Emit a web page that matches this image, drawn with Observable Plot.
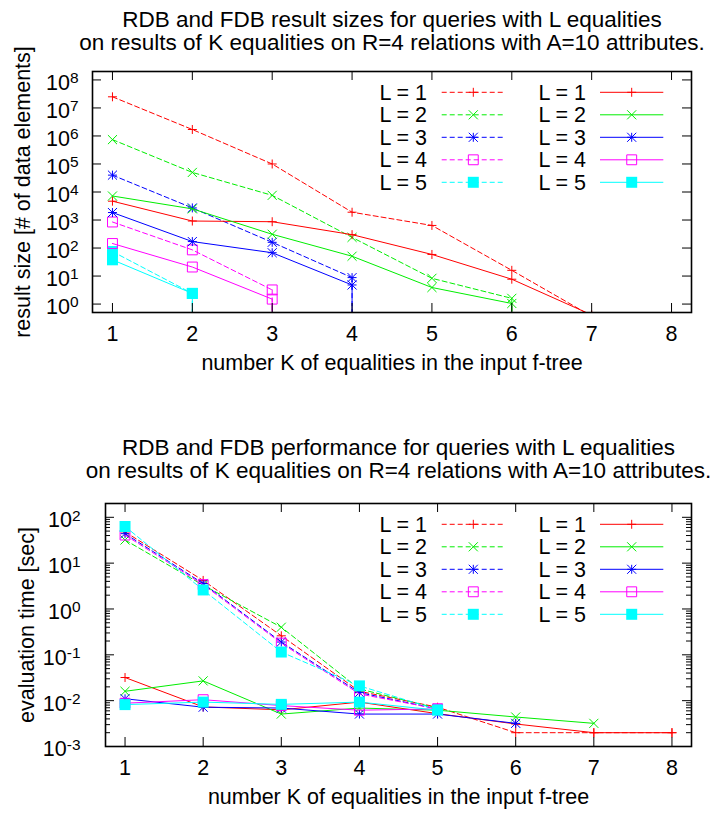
<!DOCTYPE html>
<html><head><meta charset="utf-8">
<script src="https://cdn.jsdelivr.net/npm/d3@7"></script>
<script src="https://cdn.jsdelivr.net/npm/@observablehq/plot@0.6"></script>
<style>
body{margin:0;background:#fff}
#chart{position:relative;width:711px;height:814px}
#chart svg{display:block}
</style>
</head><body><div id="chart"></div>
<script>
// ---------- data ----------
const kTicks = [1, 2, 3, 4, 5, 6, 7, 8];
const levels = [1, 2, 3, 4, 5];
const colors = ["#ff0000", "#00ee00", "#0000ff", "#ff00ff", "#00ffff"];
const legendLabels = ["L = 1", "L = 2", "L = 3", "L = 4", "L = 5"];

// result sizes [# of data elements] for K = 1.. ; 0 = empty result
const sizeRDB_L1 = [2.5e7, 1.7e6, 1.0e5, 1.9e3, 640, 16, 0.37];
const sizeRDB_L2 = [7.4e5, 5.0e4, 7.6e3, 240, 8.3, 1.6, 0];
const sizeRDB_L3 = [4.0e4, 2.7e3, 160, 8.8, 0];
const sizeRDB_L4 = [850, 86, 3.2, 0];
const sizeRDB_L5 = [75, 2.4, 0];
const sizeFDB_L1 = [4700, 920, 870, 300, 59, 7.7, 0.41];
const sizeFDB_L2 = [7200, 2500, 310, 51, 3.9, 1.05, 0];
const sizeFDB_L3 = [1850, 170, 68, 4.8, 0];
const sizeFDB_L4 = [145, 21, 1.5, 0];
const sizeFDB_L5 = [38, 2.4, 0];

// evaluation time [sec] for K = 1..
const timeRDB_L1 = [48, 4.2, 0.26, 0.016, 0.0072, 0.002, 0.002, 0.002];
const timeRDB_L2 = [32, 3.3, 0.40, 0.018, 0.0068];
const timeRDB_L3 = [44, 3.6, 0.19, 0.015, 0.0066];
const timeRDB_L4 = [41, 3.4, 0.18, 0.014, 0.0066];
const timeRDB_L5 = [63, 2.6, 0.115, 0.021, 0.0064];
const timeFDB_L1 = [0.032, 0.0073, 0.0063, 0.0093, 0.0052, 0.0031, 0.002, 0.002];
const timeFDB_L2 = [0.016, 0.027, 0.0051, 0.0069, 0.0062, 0.0044, 0.0032];
const timeFDB_L3 = [0.011, 0.0072, 0.0069, 0.0051, 0.0051, 0.0032];
const timeFDB_L4 = [0.0088, 0.0105, 0.0078, 0.0062, 0.0066];
const timeFDB_L5 = [0.0082, 0.0093, 0.0083, 0.0093, 0.0062];

const sizeTicks = [1e0, 1e1, 1e2, 1e3, 1e4, 1e5, 1e6, 1e7, 1e8];
const timeTicks = [1e-3, 1e-2, 1e-1, 1e0, 1e1, 1e2];
const timeMinorMultipliers = [2, 3, 4, 5, 6, 7, 8, 9];

const FONT = '"Liberation Sans", Arial, Helvetica, sans-serif';
const FS = 21.5;

// ---------- helpers ----------
function rowsOf(arrs, db) {
  const rows = [];
  arrs.forEach((arr, i) => arr.forEach((v, j) => rows.push({L: levels[i], db, K: kTicks[j], v, next: arr[j + 1]})));
  return rows;
}
const markerSpecs = {
  1: [{symbol: "plus", r: 3.0}],
  2: [{symbol: "times", r: 4.2}],
  3: [{symbol: "plus", r: 3.0}, {symbol: "times", r: 4.2}],
  4: [{symbol: "square2", r: 6.3}],
  5: [{symbol: "square", r: 6.2, filled: true}]
};
const d3Sym = {plus: d3.symbolPlus, times: d3.symbolTimes, square2: d3.symbolSquare2, square: d3.symbolSquare};

function panel(cfg) {
  const {height, mt, mb, ml, mr, yDomain, yTicks, minor, rdb, fdb, titles, titleDy, yLabel, yLabelX, yTickGap} = cfg;
  const fw = 711 - ml - mr, fh = height - mt - mb;
  const marks = [];
  const all = [...rowsOf(rdb, "RDB"), ...rowsOf(fdb, "FDB")];
  for (const db of ["RDB", "FDB"]) {
    const dash = db === "RDB" ? "5,3" : null;
    for (const L of levels) {
      const c = colors[L - 1];
      const pts = all.filter(d => d.db === db && d.L === L && d.v > 0);
      const drops = pts.filter(d => d.next === 0);
      marks.push(Plot.line(pts, {x: "K", y: "v", stroke: c, strokeWidth: 1, strokeDasharray: dash, clip: true}));
      if (drops.length) marks.push(Plot.ruleX(drops, {x: "K", y1: "v", y2: () => yDomain[0], stroke: c, strokeWidth: 1, strokeDasharray: dash, clip: true}));
      for (const s of markerSpecs[L]) {
        marks.push(Plot.dot(pts, {x: "K", y: "v", symbol: s.symbol, r: s.r,
          fill: s.filled ? c : "none", stroke: s.filled ? "none" : c, strokeWidth: 1, clip: true}));
      }
    }
  }
  // frame & ticks (gnuplot style, inward, mirrored)
  marks.push(Plot.tickX(kTicks, {x: d => d, insetBottom: fh - 9, stroke: "black", strokeWidth: 1}));
  marks.push(Plot.tickX(kTicks, {x: d => d, insetTop: fh - 9, stroke: "black", strokeWidth: 1}));
  marks.push(Plot.tickY(yTicks, {y: d => d, insetRight: fw - 9, stroke: "black", strokeWidth: 1}));
  marks.push(Plot.tickY(yTicks, {y: d => d, insetLeft: fw - 9, stroke: "black", strokeWidth: 1}));
  if (minor) {
    const mt2 = [];
    yTicks.forEach(t => minor.forEach(m => { const v = t * m; if (v < yDomain[1]) mt2.push(v); }));
    marks.push(Plot.tickY(mt2, {y: d => d, insetRight: fw - 5, stroke: "black", strokeWidth: 1}));
    marks.push(Plot.tickY(mt2, {y: d => d, insetLeft: fw - 5, stroke: "black", strokeWidth: 1}));
  }
  marks.push(Plot.frame({stroke: "black", strokeWidth: 1.6}));
  // tick labels
  marks.push(Plot.text(kTicks, {x: d => d, text: d => String(d), frameAnchor: "bottom", dy: 21.5, lineAnchor: "middle", fontSize: FS}));
  marks.push(Plot.text(yTicks, {y: d => d, text: d => "10^" + Math.round(Math.log10(d)), frameAnchor: "left", dx: -yTickGap, dy: 3, textAnchor: "end", lineAnchor: "middle", fontSize: FS}));
  // axis labels
  marks.push(Plot.text(["number K of equalities in the input f-tree"], {text: d => d, frameAnchor: "bottom", dy: 57, lineAnchor: "bottom", textAnchor: "middle", fontSize: FS}));
  marks.push(Plot.text([yLabel], {text: d => d, frameAnchor: "left", rotate: -90, dx: yLabelX - ml, lineAnchor: "middle", textAnchor: "middle", fontSize: FS}));
  // titles
  marks.push(Plot.text([titles[0]], {text: d => d, frameAnchor: "top", dy: titleDy[0], lineAnchor: "bottom", textAnchor: "middle", fontSize: 22.5}));
  marks.push(Plot.text([titles[1]], {text: d => d, frameAnchor: "top", dy: titleDy[1], lineAnchor: "bottom", textAnchor: "middle", fontSize: 22.5}));

  const svg = Plot.plot({
    width: 711, height, marginTop: mt, marginBottom: mb, marginLeft: ml, marginRight: mr,
    x: {type: "linear", domain: [0.75, 8.25], axis: null},
    y: {type: "log", domain: yDomain, axis: null},
    style: {fontFamily: FONT, background: "white", color: "black", overflow: "visible"},
    marks
  });
  // superscripts
  d3.select(svg).selectAll("text").each(function () {
    const m = /^10\^(-?\d+)$/.exec(this.textContent);
    if (m) {
      const t = d3.select(this);
      t.text("10");
      t.append("tspan").attr("dy", "-0.42em").attr("font-size", "0.72em").text(m[1]);
    }
  });
  // legend (two columns: dashed / solid)
  const g = d3.select(svg).append("g").attr("font-family", FONT).attr("font-size", FS);
  const cols = [{tx: 427, x1: 441.7, x2: 505.7, xm: 473.3, dash: "5,3"}, {tx: 586, x1: 600, x2: 663.3, xm: 631.7, dash: null}];
  cols.forEach(col => levels.forEach((L, i) => {
    const y = cfg.legendY + 22.5 * i, c = colors[L - 1];
    g.append("text").attr("x", col.tx).attr("y", y).attr("dy", "0.35em").attr("text-anchor", "end").text(legendLabels[i]);
    g.append("line").attr("x1", col.x1).attr("x2", col.x2).attr("y1", y).attr("y2", y)
      .attr("stroke", c).attr("stroke-width", 1).attr("stroke-dasharray", col.dash);
    for (const s of markerSpecs[L]) {
      g.append("path").attr("transform", `translate(${col.xm},${y})`)
        .attr("d", d3.symbol(d3Sym[s.symbol], s.r * s.r * Math.PI)())
        .attr("fill", s.filled ? c : "none").attr("stroke", s.filled ? "none" : c).attr("stroke-width", 1);
    }
  }));
  return svg;
}

const chart = document.getElementById("chart");
chart.append(panel({
  height: 407, mt: 71, mb: 95, ml: 92, mr: 20,
  yDomain: [0.5, 2e8], yTicks: sizeTicks, minor: null,
  rdb: [sizeRDB_L1, sizeRDB_L2, sizeRDB_L3, sizeRDB_L4, sizeRDB_L5],
  fdb: [sizeFDB_L1, sizeFDB_L2, sizeFDB_L3, sizeFDB_L4, sizeFDB_L5],
  titles: ["RDB and FDB result sizes for queries with L equalities", "on results of K equalities on R=4 relations with A=10 attributes."],
  titleDy: [-45, -22],
  yLabel: "result size [# of data elements]", yLabelX: 23, yTickGap: 14, legendY: 92.3
}));
chart.append(panel({
  height: 407, mt: 96, mb: 68, ml: 105, mr: 20,
  yDomain: [0.001, 200], yTicks: timeTicks, minor: timeMinorMultipliers,
  rdb: [timeRDB_L1, timeRDB_L2, timeRDB_L3, timeRDB_L4, timeRDB_L5],
  fdb: [timeFDB_L1, timeFDB_L2, timeFDB_L3, timeFDB_L4, timeFDB_L5],
  titles: ["RDB and FDB performance for queries with L equalities", "on results of K equalities on R=4 relations with A=10 attributes."],
  titleDy: [-49, -26],
  yLabel: "evaluation time [sec]", yLabelX: 26.5, yTickGap: 25, legendY: 117.3
}));
</script>
</body></html>
